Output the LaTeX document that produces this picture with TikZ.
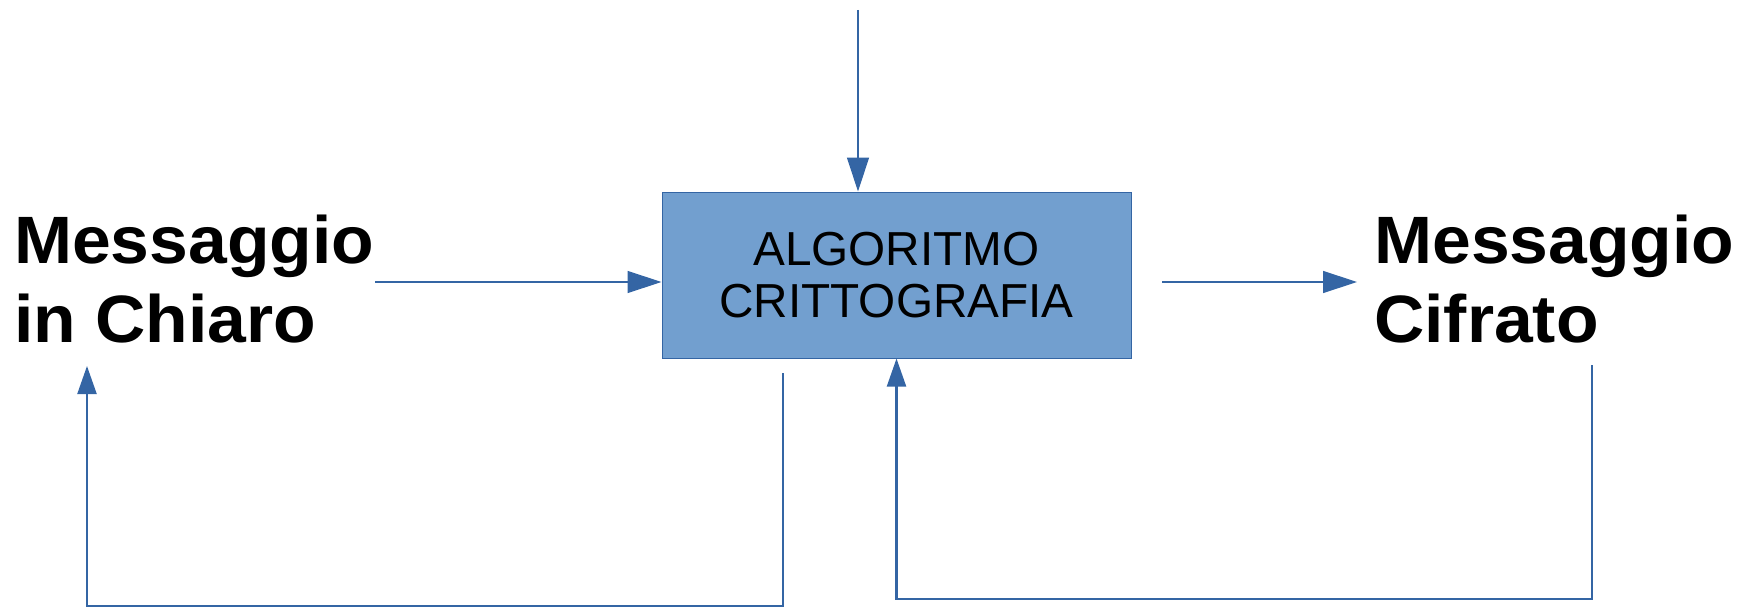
\documentclass[tikz,border=0pt]{standalone}
\usepackage{fontspec}
\setmainfont{Liberation Sans}
\newfontfamily\lblfont{Liberation Sans}[FakeStretch=1.04]
\usetikzlibrary{arrows.meta}
\definecolor{boxfill}{HTML}{729FCF}
\definecolor{lineblue}{HTML}{3465A4}
\begin{document}
\begin{tikzpicture}[x=1pt,y=-1pt,
  lbl/.style={font=\lblfont\bfseries\fontsize{67}{78.5}\selectfont, align=left, anchor=north west, inner sep=0pt},
  algbox/.style={draw=lineblue, fill=boxfill, line width=1pt, minimum width=469pt, minimum height=166pt, inner sep=0pt, align=center, font=\fontsize{47.7}{52.6}\selectfont},
  conn/.style={draw=lineblue, line width=1.3pt, -{Triangle[length=34pt,width=22pt]}},
  fb/.style={draw=lineblue, line width=2.2pt, -{Triangle[length=28pt,width=19pt]}}
]
\useasboundingbox (0,0) rectangle (1744,607);
\node[algbox] (alg) at (896.5,275) {ALGORITMO\\CRITTOGRAFIA};
\node[lbl] (lm) at (14,215) {Messaggio\\in Chiaro};
\node[lbl] (rm) at (1374,215) {Messaggio\\Cifrato};
\coordinate (topstart) at (858,10);
\draw[conn] (topstart) -- (topstart |- alg.north);
\coordinate (lmout) at (375,282);
\draw[conn] (lmout) -- (lmout -| alg.west);
\coordinate (algout) at (1162,282);
\coordinate (rmin) at (1357,282);
\draw[conn] (algout) -- (rmin);
\coordinate (a1) at (783,373);
\coordinate (b1) at (87,606);
\coordinate (a2) at (87,366);
\draw[fb] (a1) -- (a1 |- b1) -- (b1) -- (a2);
\coordinate (c1) at (1592,365);
\coordinate (d1) at (1592,599);
\draw[fb] (c1) -- (d1) -- (d1 -| alg.south) -- (alg.south);
\end{tikzpicture}
\end{document}
